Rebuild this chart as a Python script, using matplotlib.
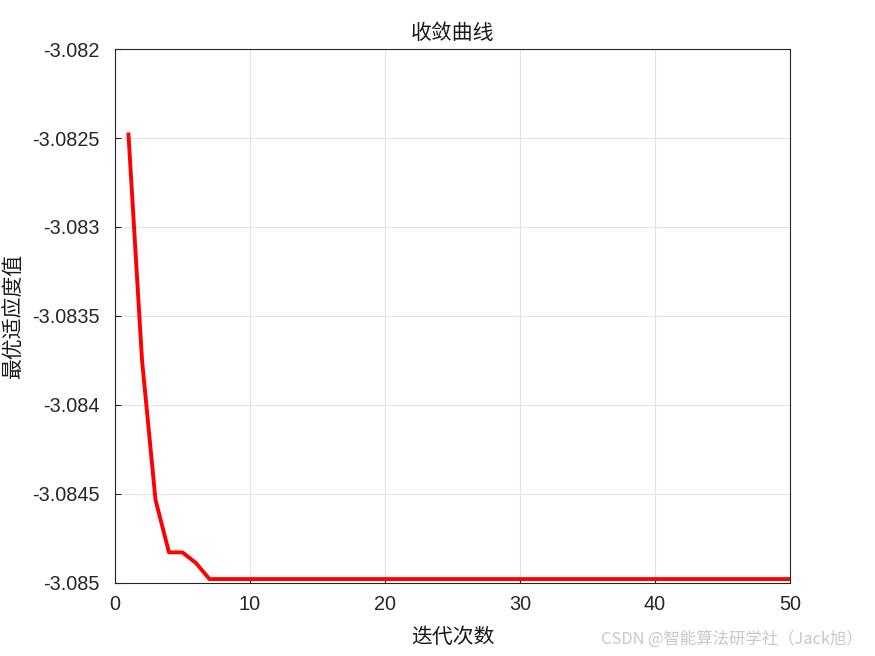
import numpy as np
import matplotlib.pyplot as plt

# 迭代次数与最优适应度值
iters = list(range(1, 51))
head_vals = [-3.08248, -3.083745, -3.084532, -3.084828, -3.084828, -3.084888, -3.084978]
best_fit = head_vals + [-3.084978] * (len(iters) - len(head_vals))

x_ticks = [0, 10, 20, 30, 40, 50]
y_ticks = [-3.085, -3.0845, -3.084, -3.0835, -3.083, -3.0825, -3.082]
y_labels = ['-3.085', '-3.0845', '-3.084', '-3.0835', '-3.083', '-3.0825', '-3.082']

plt.rcParams['font.family'] = ['Liberation Sans', 'DejaVu Sans']
cjk = ['Noto Sans CJK SC', 'DejaVu Sans']

fig = plt.figure(figsize=(8.75, 6.56), dpi=100)
ax = fig.add_axes([0.1314, 0.1113, 0.7715, 0.814])

ax.plot(iters, best_fit, color='red', linewidth=2.8)

ax.set_xlim(0, 50)
ax.set_ylim(-3.085, -3.082)
ax.set_xticks(x_ticks)
ax.set_yticks(y_ticks)
ax.set_yticklabels(y_labels)
ax.tick_params(direction='in', labelsize=14.3, colors='#262626', length=4)
ax.tick_params(axis='y', pad=11)
ax.tick_params(axis='x', pad=9)
ax.grid(True, color='#e4e4e4', linewidth=0.8)
for s in ax.spines.values():
    s.set_color('#262626')
    s.set_linewidth(0.8)

ax.set_title('收敛曲线', family=cjk, fontsize=15, color='#1a1a1a', pad=7)
ax.set_xlabel('迭代次数', family=cjk, fontsize=15, color='#1a1a1a', labelpad=8)
ax.set_ylabel('最优适应度值', family=cjk, fontsize=15, color='#1a1a1a')
ax.yaxis.set_label_coords(-0.134, 0.5)

fig.text(0.986, 0.012, 'CSDN @智能算法研学社（Jack旭）', family=cjk, fontsize=11.8,
         color='#c8c8c8', ha='right', va='bottom')

fig.savefig('out.png', dpi=100, facecolor='white')
